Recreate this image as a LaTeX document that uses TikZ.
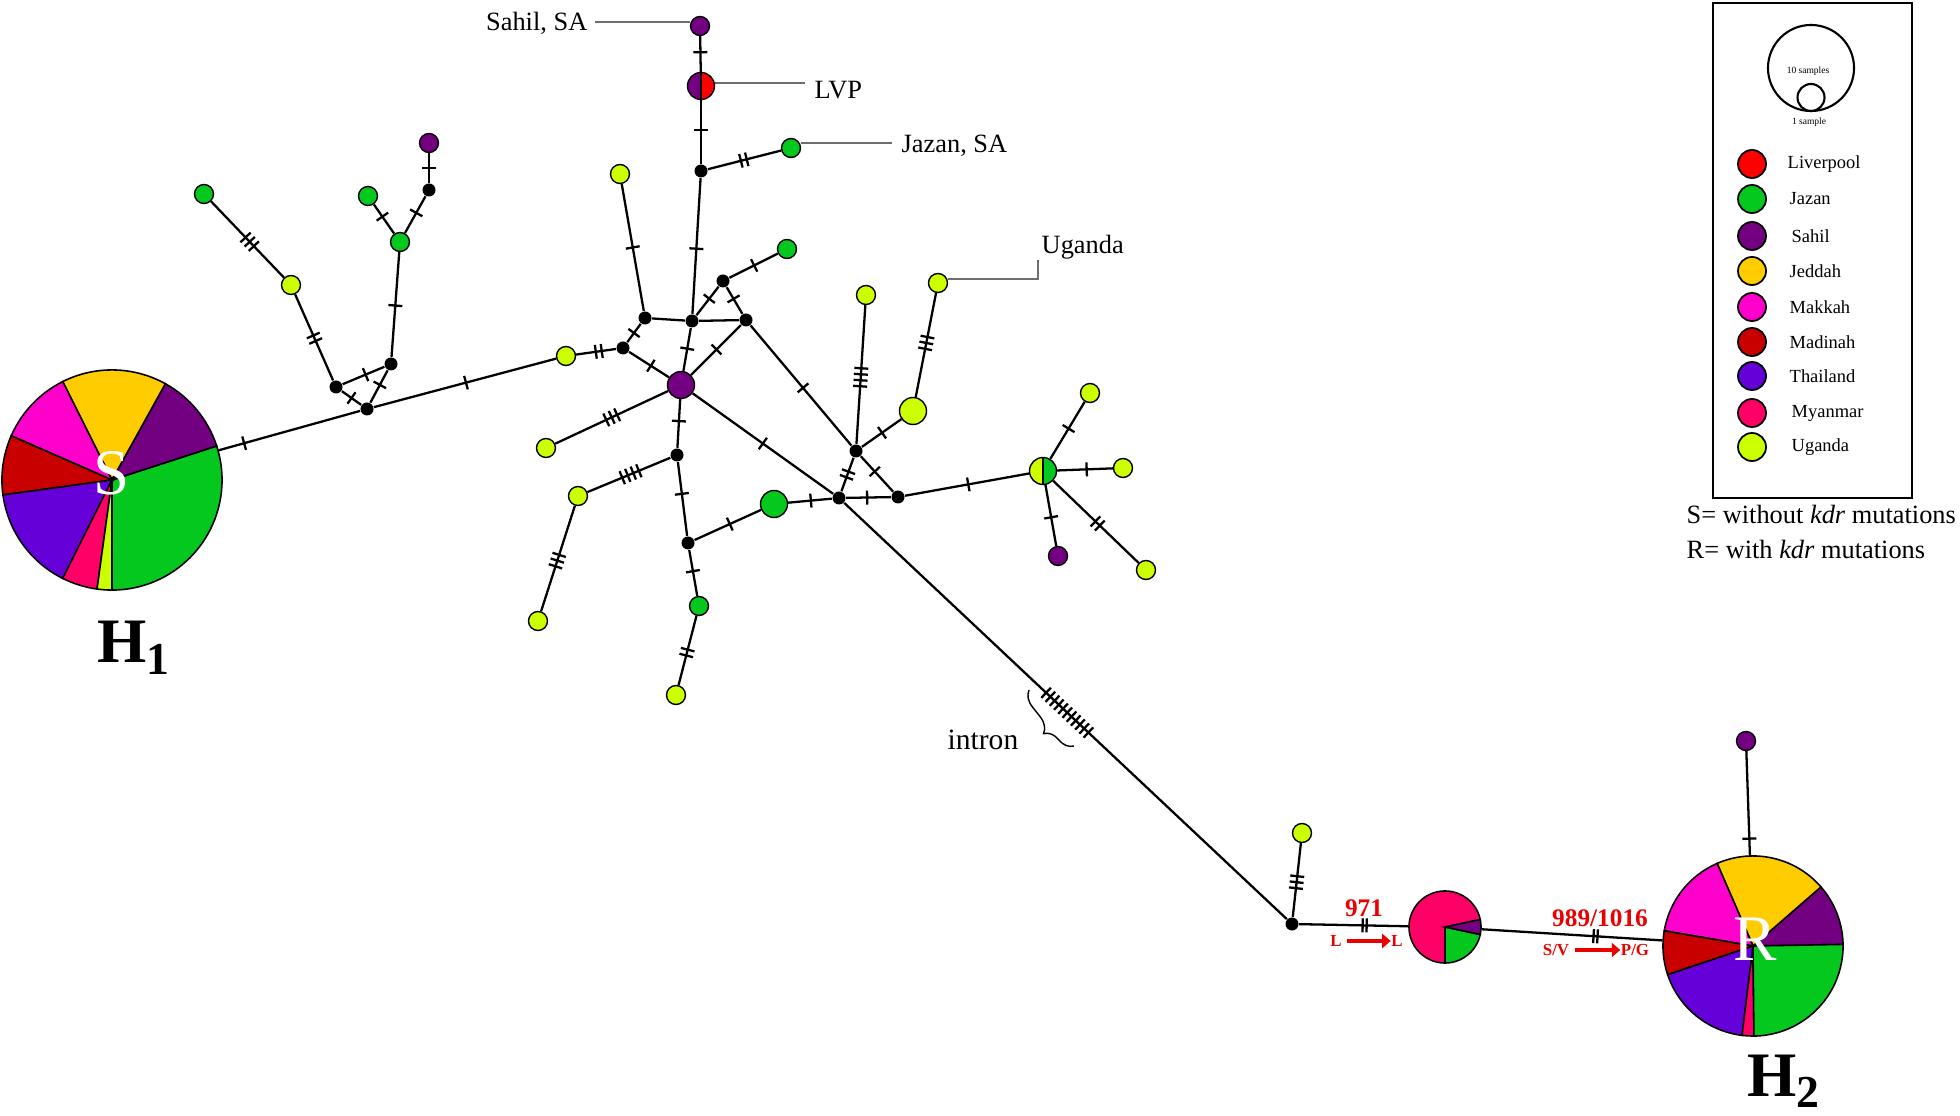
\documentclass[tikz,border=0pt]{standalone}
\usepackage{fontspec}
\setmainfont{Liberation Serif}
\usetikzlibrary{decorations.markings,decorations.pathreplacing,arrows.meta}
\definecolor{cLiv}{RGB}{255,0,0}
\definecolor{cJaz}{RGB}{4,200,30}
\definecolor{cSah}{RGB}{115,0,128}
\definecolor{cJed}{RGB}{255,204,0}
\definecolor{cMak}{RGB}{255,0,204}
\definecolor{cMad}{RGB}{200,0,0}
\definecolor{cTha}{RGB}{102,0,217}
\definecolor{cMya}{RGB}{255,0,102}
\definecolor{cUga}{RGB}{204,255,0}
\definecolor{cLead}{RGB}{110,110,110}
\definecolor{cRed}{RGB}{235,0,0}
\newcommand\tickset[2]{\foreach \k in {1,...,#1}{\draw[tickline] ({(\k-(#1+1)/2)*#2},-7) -- ({(\k-(#1+1)/2)*#2},7);}}
\newcommand\pieslice[5]{\draw[pieline,fill=#5] (#1.center) -- ++(#3:#2) arc[start angle=#3,end angle=#4,radius=#2] -- cycle;}
\tikzset{
  edge/.style={line width=0.65pt},
  tickline/.style={line width=0.65pt},
  tk/.style 2 args={postaction={decorate,decoration={markings,mark=at position #1 with {\tickset{#2}{6}}}}},
  tkw/.style n args={3}{postaction={decorate,decoration={markings,mark=at position #1 with {\tickset{#2}{#3}}}}},
  bn/.style={circle,fill=black,inner sep=0pt,minimum size=0.13cm},
  sn/.style={circle,draw,line width=0.4pt,inner sep=0pt,minimum size=0.19cm,fill=#1},
  mn/.style={circle,draw,line width=0.4pt,inner sep=0pt,minimum size=0.27cm,fill=#1},
  pienode/.style={circle,inner sep=0pt,minimum size=#1},
  pieline/.style={line width=0.45pt},
  lab/.style={inner sep=0pt,font=\fontsize{7.5}{9}\selectfont},
  leader/.style={draw=cLead,line width=0.45pt},
  legtxt/.style={inner sep=0pt,anchor=west,font=\fontsize{5.25}{6}\selectfont},
  redlab/.style={inner sep=0pt,text=cRed,font=\bfseries\fontsize{7.2}{8}\selectfont},
  redsm/.style={inner sep=0pt,text=cRed,font=\bfseries\fontsize{4.8}{6}\selectfont},
  redarrow/.style={draw=cRed,line width=1.3pt,-{Triangle[length=2.4pt,width=4pt]}},
  bigletter/.style={inner sep=0pt,text=white,font=\fontsize{18.5}{20}\selectfont},
  hlab/.style={inner sep=0pt,font=\bfseries\fontsize{18}{20}\selectfont},
  halfpic/.style={path picture={\fill[#1] (path picture bounding box.north) rectangle (path picture bounding box.south east);\draw[line width=0.3pt] (path picture bounding box.north) -- (path picture bounding box.south);}},
}
\begin{document}
\begin{tikzpicture}[x=0.01cm,y=-0.01cm]
\useasboundingbox (0,0) rectangle (1960,1116);
\fill[white] (0,0) rectangle (1960,1116);

% ---------- pies ----------
\node[pienode=2.2cm] (H1) at (112,480) {};
\node[pienode=1.8cm] (H2) at (1753,946) {};
\node[pienode=0.72cm] (My) at (1445,927) {};

\pieslice{H1}{1.1cm}{-90}{18}{cJaz}
\pieslice{H1}{1.1cm}{18}{61}{cSah}
\pieslice{H1}{1.1cm}{61}{116.6}{cJed}
\pieslice{H1}{1.1cm}{116.6}{156.3}{cMak}
\pieslice{H1}{1.1cm}{156.3}{187.8}{cMad}
\pieslice{H1}{1.1cm}{187.8}{243.4}{cTha}
\pieslice{H1}{1.1cm}{243.4}{262.2}{cMya}
\pieslice{H1}{1.1cm}{262.2}{270}{cUga}

\pieslice{H2}{0.9cm}{1}{41}{cSah}
\pieslice{H2}{0.9cm}{41}{113.5}{cJed}
\pieslice{H2}{0.9cm}{113.5}{170.3}{cMak}
\pieslice{H2}{0.9cm}{170.3}{198.6}{cMad}
\pieslice{H2}{0.9cm}{198.6}{263}{cTha}
\pieslice{H2}{0.9cm}{263}{270.6}{cMya}
\pieslice{H2}{0.9cm}{270.6}{361}{cJaz}

\pieslice{My}{0.36cm}{12}{270}{cMya}
\pieslice{My}{0.36cm}{270}{348}{cJaz}
\pieslice{My}{0.36cm}{348}{372}{cSah}

\node[bigletter] (Slet) at (112,473) {S};
\node[bigletter] (Rlet) at (1755,939) {R};
\node[hlab,anchor=base west] (h1lab) at (97,663) {H\raisebox{-3.2pt}{\fontsize{13}{14}\selectfont 1}};
\node[hlab,anchor=base west] (h2lab) at (1747,1096) {H\raisebox{-3.2pt}{\fontsize{13}{14}\selectfont 2}};

% ---------- nodes ----------
\node[bn] (B1) at (367,409) {};
\node[sn=cUga] (Ua) at (566,356) {};
\node[bn] (B2) at (336,387) {};
\node[bn] (B3) at (391,364) {};
\node[sn=cUga] (Ub) at (291,285) {};
\node[sn=cJaz] (Gc) at (204,194) {};
\node[sn=cJaz] (Gm) at (400,242) {};
\node[sn=cJaz] (Gd) at (368,196) {};
\node[bn] (B4) at (429,190) {};
\node[sn=cSah] (Pt) at (429,143) {};
\node[bn] (B5) at (623,348) {};
\node[bn] (B6) at (645,318) {};
\node[mn=cSah] (Pc) at (681,385) {};
\node[sn=cUga] (Ut) at (620,174) {};
\node[bn] (B7) at (692,321) {};
\node[bn] (B8) at (746,320) {};
\node[bn] (Bl) at (701,171) {};
\node[sn=cJaz] (Jz) at (791,148) {};
\node[mn=cSah,halfpic=cLiv] (LVP) at (701,86) {};
\node[sn=cSah] (Sah) at (700,26) {};
\node[bn] (B9) at (723,281) {};
\node[sn=cJaz] (Ge) at (787,249) {};
\node[bn] (Bh) at (856,451) {};
\node[sn=cUga] (Uc) at (546,448) {};
\node[bn] (Be) at (677,455) {};
\node[bn] (Bg) at (839,498) {};
\node[sn=cUga] (Ud) at (578,496) {};
\node[bn] (Bf) at (688,543) {};
\node[sn=cUga] (Ue) at (538,621) {};
\node[mn=cJaz] (Gb) at (774,504) {};
\node[sn=cJaz] (Gf) at (699,606) {};
\node[sn=cUga] (Uf) at (676,695) {};
\node[bn] (Bi) at (898,497) {};
\node[sn=cUga] (Ug) at (866,295) {};
\node[mn=cUga] (Ubig) at (913,411) {};
\node[sn=cUga] (Ul) at (938,283) {};
\node[mn=cUga,halfpic=cJaz] (Hf) at (1043,471) {};
\node[sn=cUga] (Uh) at (1090,393) {};
\node[sn=cUga] (Ui) at (1123,468) {};
\node[sn=cSah] (Pd) at (1058,556) {};
\node[sn=cUga] (Uj) at (1146,570) {};
\node[bn] (Bb) at (1292,924) {};
\node[sn=cUga] (Uk) at (1302,833) {};
\node[sn=cSah] (Pe) at (1746,741) {};

% ---------- edges ----------
\draw[edge,tk={0.18}{1}] (H1) -- (B1);
\draw[edge,tk={0.505}{1}] (B1) -- (Ua);
\draw[edge,tk={0.5}{1}] (B1) -- (B2);
\draw[edge,tk={0.55}{1}] (B1) -- (B3);
\draw[edge,tk={0.55}{1}] (B2) -- (B3);
\draw[edge,tk={0.49}{2}] (B2) -- (Ub);
\draw[edge,tk={0.47}{3}] (Ub) -- (Gc);
\draw[edge,tk={0.49}{1}] (B3) -- (Gm);
\draw[edge,tk={0.58}{1}] (Gm) -- (Gd);
\draw[edge,tk={0.55}{1}] (Gm) -- (B4);
\draw[edge,tk={0.5}{1}] (B4) -- (Pt);
\draw[edge,tk={0.57}{2}] (Ua) -- (B5);
\draw[edge,tk={0.5}{1}] (B5) -- (B6);
\draw[edge,tk={0.545}{1}] (B5) -- (Pc);
\draw[edge,tk={0.5}{1}] (B6) -- (Ut);
\draw[edge] (B6) -- (B7);
\draw[edge] (B7) -- (B8);
\draw[edge,tk={0.48}{1}] (B7) -- (Bl);
\draw[edge,tk={0.49}{2}] (Bl) -- (Jz);
\draw[edge,tk={0.53}{1}] (Bl) -- (LVP);
\draw[edge,tk={0.55}{1}] (LVP) -- (Sah);
\draw[edge,tk={0.58}{1}] (B7) -- (B9);
\draw[edge,tk={0.51}{1}] (B9) -- (Ge);
\draw[edge,tk={0.44}{1}] (B9) -- (B8);
\draw[edge,tk={0.48}{1}] (B7) -- (Pc);
\draw[edge,tk={0.49}{1}] (B8) -- (Pc);
\draw[edge,tk={0.52}{1}] (B8) -- (Bh);
\draw[edge,tk={0.5}{3}] (Pc) -- (Uc);
\draw[edge,tk={0.45}{1}] (Pc) -- (Be);
\draw[edge,tk={0.5}{1}] (Pc) -- (Bg);
\draw[edge,tk={0.48}{4}] (Be) -- (Ud);
\draw[edge,tk={0.43}{1}] (Be) -- (Bf);
\draw[edge,tk={0.52}{3}] (Ud) -- (Ue);
\draw[edge,tk={0.53}{1}] (Bf) -- (Gb);
\draw[edge,tk={0.46}{1}] (Bf) -- (Gf);
\draw[edge,tk={0.53}{2}] (Gf) -- (Uf);
\draw[edge,tk={0.52}{1}] (Gb) -- (Bg);
\draw[edge,tk={0.5}{2}] (Bg) -- (Bh);
\draw[edge,tk={0.47}{1}] (Bg) -- (Bi);
\draw[edge,tk={0.43}{1}] (Bh) -- (Bi);
\draw[edge,tk={0.48}{4}] (Bh) -- (Ug);
\draw[edge,tk={0.51}{1}] (Bh) -- (Ubig);
\draw[edge,tk={0.52}{3}] (Ubig) -- (Ul);
\draw[edge,tk={0.51}{1}] (Bi) -- (Hf);
\draw[edge,tk={0.53}{1}] (Hf) -- (Uh);
\draw[edge,tk={0.53}{1}] (Hf) -- (Ui);
\draw[edge,tk={0.53}{1}] (Hf) -- (Pd);
\draw[edge,tk={0.52}{2}] (Hf) -- (Uj);
\draw[edge,tkw={0.504}{11}{5.8}] (Bg) -- (Bb);
\draw[edge,tk={0.47}{3}] (Bb) -- (Uk);
\draw[edge,tkw={0.6}{2}{4}] (Bb) -- (My);
\draw[edge,tkw={0.63}{2}{4}] (My) -- (H2);
\draw[edge,tk={0.16}{1}] (H2) -- (Pe);

% ---------- labels with leaders ----------
\node[lab,anchor=base east] (sahtxt) at (588,31) {Sahil, SA};
\coordinate (sahE) at (595,22);
\draw[leader] (sahE) -- (sahE -| Sah.west);
\node[lab,anchor=base west] (lvptxt) at (814,99) {LVP};
\coordinate (lvpE) at (805,83);
\draw[leader] (lvpE -| LVP.east) -- (lvpE);
\node[lab,anchor=base west] (jztxt) at (901,153) {Jazan, SA};
\coordinate (jzE) at (892,143);
\draw[leader] (jzE -| Jz.east) -- (jzE);
\node[lab,anchor=base west] (ugtxt) at (1041,254) {Uganda};
\coordinate (ugC) at (1038,279);
\coordinate (ugT) at (1038,260);
\draw[leader] (ugC -| Ul.east) -- (ugC) -- (ugT);

% intron
\node[inner sep=0pt,anchor=base west,font=\fontsize{8.4}{10}\selectfont] (introntxt) at (947,750) {intron};
\coordinate (brA) at (1074,746);
\coordinate (brB) at (1029,690);
\draw[line width=0.4pt,decorate,decoration={brace,amplitude=0.16cm,aspect=0.4}] (brA) -- (brB);

% kdr mutation labels
\node[redlab,anchor=base] (l971) at (1364,917) {971};
\node[redsm] (lL1) at (1336,941) {L};
\node[redsm] (lL2) at (1397,941) {L};
\draw[redarrow] (lL1.east) ++(0.05cm,0) coordinate (a1s) -- (a1s -| lL2.west);
\node[redlab,anchor=base] (l989) at (1600,927) {989/1016};
\node[redsm] (lSV) at (1556,950) {S/V};
\node[redsm] (lPG) at (1635,950) {P/G};
\draw[redarrow] (lSV.east) ++(0.05cm,0) coordinate (a2s) -- (a2s -| lPG.west);

% ---------- legend ----------
\node[draw,line width=0.6pt,minimum width=1.99cm,minimum height=4.95cm,anchor=north west,inner sep=0pt] (legbox) at (1712,2) {};
\node[circle,draw,line width=0.6pt,minimum size=0.86cm,inner sep=0pt] (lgbig) at (1811,68) {};
\node[circle,draw,line width=0.6pt,minimum size=0.27cm,inner sep=0pt] (lgsmall) at (1811,97.5) {};
\node[inner sep=0pt,font=\fontsize{2.7}{3}\selectfont] (t10) at (1808,71) {10 samples};
\node[inner sep=0pt,font=\fontsize{2.7}{3}\selectfont] (t1) at (1809,122) {1 sample};
\foreach \c/\n/\y/\tx in {cLiv/Liverpool/164/1787,cJaz/Jazan/199/1789,cSah/Sahil/236/1791,cJed/Jeddah/271/1789,cMak/Makkah/307/1789,cMad/Madinah/342/1789,cTha/Thailand/376/1789,cMya/Myanmar/413/1791,cUga/Uganda/447/1791}{
  \node[circle,draw,line width=0.5pt,fill=\c,minimum size=0.28cm,inner sep=0pt] (lg\n) at (1752,\y) {};
  \node[legtxt] (lt\n) at (\tx,\y) {\n};
}
\node[inner sep=0pt,anchor=base west,font=\fontsize{7.5}{9}\selectfont] (sdef) at (1686,524) {S= without \textit{kdr} mutations};
\node[inner sep=0pt,anchor=base west,font=\fontsize{7.5}{9}\selectfont] (rdef) at (1686,559) {R= with \textit{kdr} mutations};
\end{tikzpicture}
\end{document}
